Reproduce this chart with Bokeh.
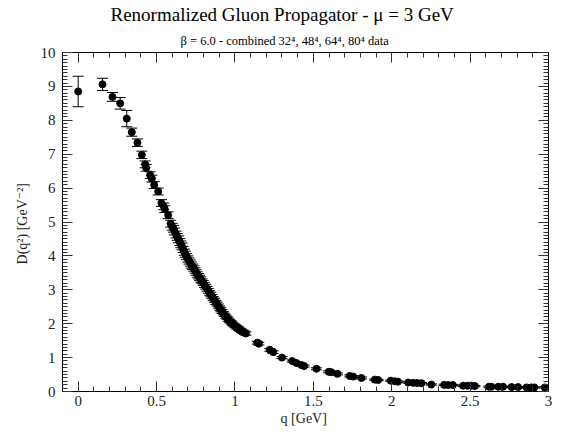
from bokeh.plotting import figure
from bokeh.models import (ColumnDataSource, Whisker, TeeHead, LinearAxis, Range1d,
                          SingleIntervalTicker, CustomJSTickFormatter, Title)
from bokeh.embed import file_html
from bokeh.resources import INLINE

# ---- data ----
q = [0.000, 0.155, 0.219, 0.268, 0.310, 0.342, 0.378, 0.406, 0.427, 0.434,
     0.459, 0.470, 0.485, 0.510, 0.531, 0.546, 0.552, 0.574, 0.590, 0.600,
     0.608, 0.615, 0.625, 0.632, 0.640, 0.648, 0.655, 0.662, 0.670, 0.677,
     0.684, 0.692, 0.700, 0.707, 0.715, 0.722, 0.730, 0.738, 0.745, 0.752,
     0.760, 0.768, 0.775, 0.783, 0.790, 0.798, 0.806, 0.814, 0.822, 0.830,
     0.838, 0.846, 0.854, 0.862, 0.870, 0.878, 0.886, 0.894, 0.902, 0.910,
     0.918, 0.926, 0.934, 0.942, 0.950, 0.958, 0.966, 0.975, 0.984, 0.993,
     1.002, 1.012, 1.022, 1.032, 1.042, 1.052, 1.062, 1.070,
     1.143, 1.152, 1.222, 1.244, 1.300, 1.365, 1.392, 1.424, 1.441, 1.520,
     1.598, 1.615, 1.654, 1.732, 1.754, 1.807, 1.892, 1.913, 1.994, 2.020,
     2.040, 2.105, 2.136, 2.162, 2.190, 2.253, 2.334, 2.360, 2.390, 2.455,
     2.483, 2.508, 2.530, 2.620, 2.636, 2.680, 2.710, 2.765, 2.806, 2.860,
     2.890, 2.910, 2.976]
D = [8.85, 9.06, 8.69, 8.50, 8.05, 7.65, 7.34, 6.98, 6.70, 6.60,
     6.38, 6.28, 6.09, 5.90, 5.56, 5.46, 5.38, 5.20, 4.95, 4.86,
     4.80, 4.72, 4.63, 4.56, 4.49, 4.41, 4.34, 4.28, 4.19, 4.11,
     4.05, 3.98, 3.91, 3.85, 3.79, 3.73, 3.68, 3.63, 3.57, 3.51,
     3.45, 3.40, 3.35, 3.30, 3.25, 3.20, 3.14, 3.09, 3.03, 2.97,
     2.91, 2.86, 2.80, 2.74, 2.69, 2.63, 2.58, 2.52, 2.46, 2.41,
     2.36, 2.31, 2.26, 2.21, 2.17, 2.12, 2.08, 2.04, 2.00, 1.96,
     1.93, 1.89, 1.86, 1.82, 1.79, 1.76, 1.73, 1.71,
     1.44, 1.41, 1.23, 1.16, 1.00, 0.90, 0.84, 0.78, 0.75, 0.67,
     0.58, 0.57, 0.52, 0.46, 0.44, 0.40, 0.35, 0.34, 0.32, 0.30,
     0.29, 0.265, 0.255, 0.25, 0.245, 0.205, 0.195, 0.19, 0.19, 0.17,
     0.17, 0.17, 0.16, 0.14, 0.14, 0.14, 0.14, 0.13, 0.13, 0.12,
     0.12, 0.12, 0.12]
err = [0.45, 0.18, 0.13, 0.17, 0.24, 0.12, 0.11, 0.11, 0.10, 0.10,
       0.10, 0.10, 0.10, 0.10, 0.10, 0.10, 0.10, 0.10, 0.10, 0.10,
       0.10, 0.10, 0.10, 0.10, 0.10, 0.10, 0.10, 0.10, 0.09, 0.09,
       0.09, 0.09, 0.09, 0.09, 0.09, 0.09, 0.08, 0.08, 0.08, 0.08,
       0.08, 0.08, 0.08, 0.08, 0.07, 0.07, 0.07, 0.07, 0.07, 0.07,
       0.07, 0.07, 0.06, 0.06, 0.06, 0.06, 0.06, 0.06, 0.06, 0.06,
       0.06, 0.05, 0.05, 0.05, 0.05, 0.05, 0.05, 0.05, 0.05, 0.05,
       0.05, 0.05, 0.05, 0.05, 0.05, 0.05, 0.05, 0.05,
       0.04, 0.04, 0.04, 0.04, 0.03, 0.03, 0.03, 0.03, 0.03, 0.03,
       0.03, 0.03, 0.03, 0.03, 0.03, 0.03, 0.02, 0.02, 0.02, 0.02,
       0.02, 0.02, 0.02, 0.02, 0.02, 0.02, 0.02, 0.02, 0.02, 0.02,
       0.02, 0.02, 0.02, 0.02, 0.02, 0.02, 0.02, 0.02, 0.02, 0.02,
       0.02, 0.02, 0.02]

title_text = "Renormalized Gluon Propagator - \u03bc = 3 GeV"
subtitle_text = "\u03b2 = 6.0 - combined 32\u2074, 48\u2074, 64\u2074, 80\u2074 data"
x_label = "q  [GeV]"
y_label = "D(q\u00b2)  [GeV\u207b\u00b2]"

SERIF = "'Liberation Serif', 'Times New Roman', 'DejaVu Serif', serif"

src = ColumnDataSource(dict(q=q, D=D,
                            lo=[d - e for d, e in zip(D, err)],
                            hi=[d + e for d, e in zip(D, err)]))

p = figure(width=564, height=433, output_backend="svg", toolbar_location=None,
           x_range=Range1d(-0.1, 3.0), y_range=Range1d(0, 10),
           min_border_left=62, min_border_right=16, min_border_top=13,
           min_border_bottom=42, x_axis_location=None, y_axis_location=None)
p.grid.visible = False
p.outline_line_color = "black"
p.outline_line_width = 1
p.background_fill_color = "white"
p.border_fill_color = "white"

xt = SingleIntervalTicker(interval=0.5, num_minor_ticks=5)
yt = SingleIntervalTicker(interval=1, num_minor_ticks=10)
fmt = CustomJSTickFormatter(code="return Number(tick.toFixed(2)).toString();")
blank = CustomJSTickFormatter(code="return '';")

def style_axis(ax):
    ax.axis_line_color = "black"
    ax.major_tick_in = 10
    ax.major_tick_out = 0
    ax.minor_tick_in = 5
    ax.minor_tick_out = 0
    ax.major_tick_line_color = "#333333"
    ax.minor_tick_line_color = "#333333"
    ax.major_label_text_font = SERIF
    ax.major_label_text_font_size = "15px"
    ax.major_label_text_color = "#222222"
    ax.axis_label_text_font = SERIF
    ax.axis_label_text_font_size = "14px"
    ax.axis_label_text_font_style = "normal"
    ax.axis_label_text_color = "#222222"

bx = LinearAxis(ticker=xt, formatter=fmt, axis_label=x_label)
style_axis(bx)
bx.major_label_standoff = 4
bx.axis_label_standoff = 2
p.add_layout(bx, "below")

ly = LinearAxis(ticker=yt, formatter=fmt, axis_label=y_label)
style_axis(ly)
ly.major_label_standoff = 7
ly.axis_label_standoff = 8
p.add_layout(ly, "left")

tx = LinearAxis(ticker=xt, formatter=blank)
style_axis(tx)
tx.major_label_standoff = 0
p.add_layout(tx, "above")

ry = LinearAxis(ticker=yt, formatter=blank)
style_axis(ry)
ry.major_label_standoff = 0
p.add_layout(ry, "right")

wh = Whisker(source=src, base="q", lower="lo", upper="hi", dimension="height",
             line_color="black", line_width=1,
             upper_head=TeeHead(size=11, line_color="black", line_width=1),
             lower_head=TeeHead(size=11, line_color="black", line_width=1))
p.add_layout(wh)

p.scatter("q", "D", source=src, size=7, color="black")

p.add_layout(Title(text=subtitle_text, align="left", offset=118,
                   text_font=SERIF, text_font_size="12.5px", text_font_style="normal",
                   text_color="black", standoff=10), "above")
p.add_layout(Title(text=title_text, align="left", offset=48,
                   text_font=SERIF, text_font_size="19px", text_font_style="normal",
                   text_color="black", standoff=3), "above")

open("out.html", "w").write(file_html(p, INLINE))
